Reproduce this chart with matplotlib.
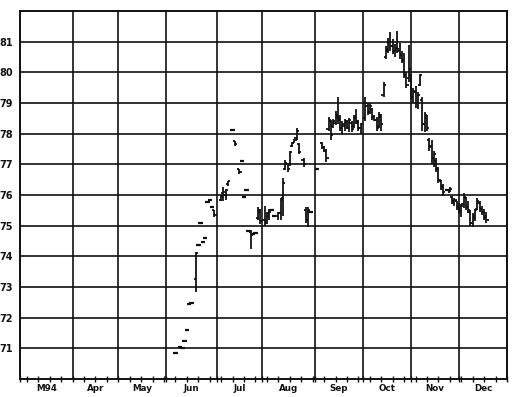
import matplotlib
matplotlib.use("Agg")
import matplotlib.pyplot as plt
import numpy as np

# trading-day index (0 = first trading day of March 1994)
month_bounds = [0, 23, 43, 64, 86, 106, 129, 150, 171, 192, 213]
month_labels = ["M94", "Apr", "May", "Jun", "Jul", "Aug", "Sep", "Oct", "Nov", "Dec"]
week_ticks = list(range(3, 213, 5))
price_ticks = [71, 72, 73, 74, 75, 76, 77, 78, 79, 80, 81]

# days with a single traded price (drawn as a short dash)
dash_day = [68, 70, 71, 72, 73, 74, 75, 78, 79, 80, 81, 82, 83, 84, 93, 97, 98, 99,
            100, 102, 103, 110, 111, 127, 130, 187]
dash_price = [70.85, 71.05, 71.02, 71.25, 71.60, 72.45, 72.48, 74.38, 75.08, 74.48,
              74.60, 75.76, 75.84, 75.60, 78.12, 77.12, 75.95, 76.15, 74.82, 74.72,
              74.75, 75.50, 75.33, 75.44, 76.86, 76.15]

# full OHLC bars
bar_day = [77, 85, 88, 89, 90, 91, 94, 96, 101, 104, 105, 107, 108, 109, 113, 114, 115,
           116, 117, 118, 119, 120, 121, 122, 124, 125, 126,
           132, 133, 134, 135, 136, 137, 138, 139, 140, 141, 142, 143, 144, 145, 146,
           147, 148, 149,
           151, 152, 153, 154, 155, 156, 157, 158, 159, 160, 161, 162, 163, 164, 165,
           166, 167, 168, 169, 170,
           171, 172, 173, 174, 175, 176, 177, 178, 179, 180, 181, 182, 183, 184, 185,
           188, 189, 190, 191,
           192, 193, 194, 195, 196, 197, 198, 199, 200, 201, 202, 203, 204]
bar_open = [73.27, 75.50, 75.85, 76.05, 76.00, 76.35, 77.75, 76.86, 74.80, 75.25, 75.45,
            75.20, 75.15, 75.30, 75.30, 75.40, 75.90, 76.85, 77.00, 77.00, 77.60, 77.70,
            77.85, 77.65, 77.15, 75.50, 75.20,
            77.70, 77.55, 77.45, 78.15, 78.40, 78.25, 78.35, 78.55, 78.45, 78.20, 78.25,
            78.35, 78.20, 78.35, 78.25, 78.50, 78.35, 78.20,
            78.50, 78.90, 78.70, 78.80, 78.55, 78.45, 78.25, 78.55, 79.25, 80.50, 80.70,
            81.00, 80.85, 80.70, 80.80, 80.70, 80.55, 80.40, 79.90, 79.80,
            79.90, 79.20, 79.35, 79.00, 79.60, 79.10, 78.30, 78.50, 77.80, 77.60, 77.20,
            77.10, 76.85, 76.45, 76.30, 76.10, 75.95, 75.75, 75.80,
            75.60, 75.45, 75.70, 75.90, 75.60, 75.45, 75.10, 75.25, 75.55, 75.75, 75.55,
            75.45, 75.30]
bar_high = [74.15, 75.50, 76.00, 76.26, 76.20, 76.47, 77.75, 76.86, 74.85, 75.60, 75.55,
            75.65, 75.45, 75.55, 75.44, 75.90, 76.55, 77.15, 77.05, 77.45, 77.72, 77.84,
            78.17, 77.68, 77.20, 75.60, 75.62,
            77.72, 77.60, 77.50, 78.54, 78.45, 78.48, 78.75, 79.20, 78.60, 78.40, 78.48,
            78.43, 78.50, 78.40, 78.60, 78.80, 78.43, 78.35,
            79.20, 79.00, 79.00, 78.85, 78.60, 78.54, 78.70, 78.65, 79.70, 80.85, 81.13,
            81.30, 81.10, 80.93, 81.36, 80.95, 80.70, 80.64, 80.00, 80.90,
            79.96, 79.50, 79.56, 79.35, 79.96, 79.20, 78.70, 78.60, 77.87, 77.80, 77.45,
            77.20, 76.90, 76.50, 76.37, 76.25, 75.98, 75.90, 75.80,
            75.75, 75.72, 76.05, 75.95, 75.80, 75.50, 75.40, 75.55, 75.90, 75.80, 75.65,
            75.55, 75.44]
bar_low = [72.85, 75.28, 75.80, 75.80, 75.85, 76.30, 77.60, 76.70, 74.25, 75.18, 75.07,
           75.00, 75.05, 75.18, 75.18, 75.18, 75.30, 76.80, 76.75, 76.96, 77.57, 77.68,
           77.78, 77.35, 76.90, 75.10, 74.96,
           77.50, 77.40, 77.08, 78.10, 77.80, 78.20, 78.28, 78.30, 78.10, 78.00, 78.10,
           78.16, 78.06, 78.05, 78.20, 78.30, 78.10, 78.00,
           78.40, 78.60, 78.65, 78.45, 78.40, 78.10, 78.20, 78.10, 79.20, 80.45, 80.64,
           80.70, 80.60, 80.50, 80.64, 80.45, 80.30, 79.80, 79.50, 79.70,
           79.10, 79.00, 78.85, 78.80, 79.55, 78.10, 78.05, 78.10, 77.45, 77.00, 76.90,
           76.74, 76.40, 76.15, 75.98, 76.10, 75.70, 75.65, 75.50,
           75.40, 75.27, 75.56, 75.50, 75.40, 75.00, 74.95, 75.15, 75.50, 75.45, 75.35,
           75.17, 75.10]
bar_close = [74.10, 75.35, 75.95, 76.10, 76.15, 76.45, 77.65, 76.75, 74.70, 75.50, 75.15,
             75.10, 75.40, 75.45, 75.40, 75.85, 76.40, 77.05, 76.85, 77.40, 77.70, 77.80,
             78.10, 77.40, 77.00, 75.20, 75.50,
             77.55, 77.45, 77.20, 78.45, 77.95, 78.40, 78.60, 78.50, 78.20, 78.30, 78.40,
             78.20, 78.45, 78.15, 78.55, 78.40, 78.20, 78.30,
             79.00, 78.70, 78.90, 78.55, 78.45, 78.20, 78.60, 78.30, 79.60, 80.75, 81.00,
             80.85, 80.70, 80.80, 80.75, 80.55, 80.40, 79.90, 79.60, 80.10,
             79.20, 79.40, 79.00, 79.25, 79.90, 78.30, 78.60, 78.20, 77.55, 77.20, 77.35,
             76.85, 76.50, 76.25, 76.10, 76.20, 75.80, 75.85, 75.60,
             75.45, 75.65, 75.95, 75.60, 75.50, 75.10, 75.30, 75.50, 75.80, 75.55, 75.45,
             75.25, 75.20]

W, H = 520, 397
fig = plt.figure(figsize=(W / 100, H / 100), dpi=100)
ax = fig.add_axes([20 / W, 18 / H, 487 / W, 368 / H])
ax.set_xlim(month_bounds[0], month_bounds[-1])
ax.set_ylim(70, 82)

ink = "#111111"
tick_w = 0.95
bd = np.array(bar_day, dtype=float)
ax.vlines(bd, bar_low, bar_high, color=ink, lw=1.3, zorder=3)
ax.hlines(bar_open, bd - tick_w, bd, color=ink, lw=1.3, zorder=3)
ax.hlines(bar_close, bd, bd + tick_w, color=ink, lw=1.3, zorder=3)
dd = np.array(dash_day, dtype=float)
ax.hlines(dash_price, dd - tick_w, dd + tick_w, color=ink, lw=1.6, zorder=3)

# grid
ax.set_yticks(price_ticks)
ax.set_yticklabels([str(p) for p in price_ticks], fontsize=7, fontweight="bold")
ax.set_xticks(month_bounds)
ax.set_xticks(week_ticks, minor=True)
ax.set_xticklabels([])
ax.grid(True, which="major", color=ink, lw=1.2)
ax.tick_params(axis="y", length=0, pad=5, colors=ink)
ax.tick_params(axis="x", which="both", direction="inout", length=5, width=1.0,
               colors=ink)
for s in ax.spines.values():
    s.set_color(ink)
    s.set_linewidth(1.4)

for i, lab in enumerate(month_labels):
    mid = (month_bounds[i] + month_bounds[i + 1]) / 2
    ax.text(mid, -0.026, lab, transform=ax.get_xaxis_transform(), ha="center",
            va="center", fontsize=6.3, fontweight="bold", color=ink)

fig.savefig("out.png", dpi=100)
